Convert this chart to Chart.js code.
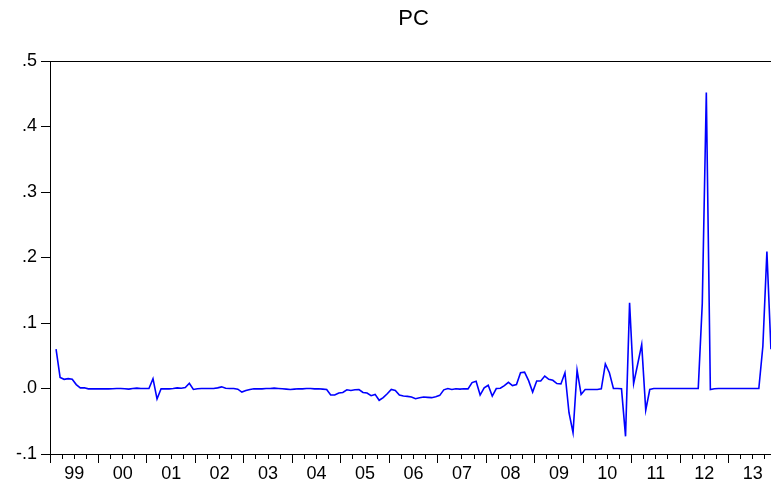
<!DOCTYPE html>
<html>
<head>
<meta charset="utf-8">
<script src="https://cdn.jsdelivr.net/npm/chart.js@4.4.1/dist/chart.umd.min.js"></script>
<style>
  html, body { margin: 0; padding: 0; background: #fff; overflow: hidden; }
  #wrap { width: 780px; height: 487px; }
</style>
</head>
<body>
<div id="wrap"><canvas id="chartPC" width="780" height="487"></canvas></div>
<script>
// series PC, monthly, first observation 1999M02 (months counted from 1999M01)
const firstObs = 1;
const yearLabels = ['99', '00', '01', '02', '03', '04', '05', '06', '07', '08', '09', '10', '11', '12', '13'];
const yTickLabels = ['-.1', '.0', '.1', '.2', '.3', '.4', '.5'];

const pcValues = [
  // 1999 (Feb-Dec)
  0.060, 0.017, 0.014, 0.015, 0.014, 0.006, 0.001, 0.001, -0.0005, -0.0005, -0.0005,
  // 2000
  -0.0005, -0.0005, -0.0005, -0.0003, 0.0, 0.0, -0.0005, -0.001, 0.0, 0.0005, 0.0, 0.0,
  // 2001
  0.0, 0.015, -0.016, -0.0005, -0.0005, -0.0005, 0.0, 0.001, 0.0005, 0.0015, 0.008, -0.0015,
  // 2002
  -0.0005, 0.0, 0.0, 0.0, 0.0, 0.001, 0.0025, 0.0005, 0.0, 0.0, -0.001, -0.0055,
  // 2003
  -0.003, -0.0015, -0.0005, -0.0005, -0.0005, 0.0, 0.0, 0.0005, 0.0, -0.0005, -0.001, -0.0015,
  // 2004
  -0.001, -0.0005, -0.0005, 0.0, 0.0, -0.0005, -0.0005, -0.001, -0.0015, -0.010, -0.010, -0.007,
  // 2005
  -0.006, -0.002, -0.003, -0.002, -0.0015, -0.006, -0.007, -0.011, -0.009, -0.018, -0.014, -0.008,
  // 2006
  -0.0015, -0.003, -0.010, -0.0115, -0.012, -0.013, -0.0155, -0.014, -0.013, -0.0135, -0.014, -0.0125,
  // 2007
  -0.0105, -0.002, 0.0, -0.0015, -0.0005, -0.001, -0.0005, -0.0005, 0.009, 0.011, -0.010, 0.001,
  // 2008
  0.005, -0.0115, 0.0, 0.0005, 0.0045, 0.0095, 0.0045, 0.006, 0.024, 0.025, 0.012, -0.0055,
  // 2009
  0.0115, 0.0115, 0.019, 0.014, 0.0125, 0.0075, 0.007, 0.024, -0.037, -0.0675, 0.028, -0.009,
  // 2010
  -0.0015, -0.0015, -0.0015, -0.0015, -0.0005, 0.0375, 0.024, 0.0, 0.0, -0.0005, -0.073, 0.131,
  // 2011
  0.0075, 0.037, 0.067, -0.033, -0.0015, 0.0, 0.0, 0.0, 0.0, 0.0, 0.0, 0.0,
  // 2012
  0.0, 0.0, 0.0, 0.0, 0.0, 0.13, 0.452, -0.0015, -0.0005, 0.0, 0.0, 0.0,
  // 2013
  0.0, 0.0, 0.0, 0.0, 0.0, 0.0, 0.0, 0.0, 0.0645, 0.209, 0.06
];

const yMin = -0.1, yMax = 0.5;
const xMax = yearLabels.length * 12;

Chart.defaults.font.family = '"Liberation Sans", Arial, sans-serif';
Chart.defaults.color = '#000';

// cadre autour de la zone de tracé
const framePlugin = {
  id: 'frame',
  afterDraw(chart) {
    const { ctx, chartArea: a } = chart;
    ctx.save();
    ctx.strokeStyle = '#000';
    ctx.lineWidth = 1;
    ctx.strokeRect(Math.round(a.left) + 0.5, Math.round(a.top) + 0.5, Math.round(a.right - a.left), Math.round(a.bottom - a.top));
    ctx.restore();
  }
};

const canvas = document.getElementById('chartPC');
const chart = new Chart(canvas, {
  type: 'line',
  data: {
    datasets: [{
      label: 'PC',
      data: pcValues.map((v, i) => ({ x: firstObs + i + 0.5, y: v })),
      borderColor: '#0000ff',
      borderWidth: 1.6,
      pointRadius: 0,
      tension: 0,
      fill: false
    }]
  },
  options: {
    responsive: false,
    animation: false,
    layout: { padding: { left: 0, right: 3, top: 0, bottom: 0 } },
    plugins: {
      legend: { display: false },
      tooltip: { enabled: false },
      title: {
        display: true,
        text: 'PC',
        fullSize: false,
        font: { size: 22, weight: 'normal' },
        padding: { top: 6, bottom: 28.6 }
      }
    },
    scales: {
      x: {
        type: 'linear',
        min: 0,
        max: xMax,
        afterFit(scale) { scale.height = 33; },
        afterBuildTicks(scale) {
          const t = [];
          for (let v = 0; v <= xMax; v += 3) t.push({ value: v });
          scale.ticks = t;
        },
        ticks: {
          autoSkip: false,
          maxRotation: 0,
          padding: 0,
          font: { size: 18 },
          callback: v => (v % 12 === 6 ? yearLabels[(v - 6) / 12] : '')
        },
        grid: {
          drawOnChartArea: false,
          tickLength: 9,
          tickColor: '#000',
          tickBorderDash: ctx => (ctx.tick && ctx.tick.value % 12 === 0 ? [] : [4, 30])
        },
        border: { display: true, color: '#000', width: 1 }
      },
      y: {
        min: yMin,
        max: yMax,
        afterFit(scale) { scale.width = 50; },
        ticks: {
          stepSize: 0.1,
          padding: 4,
          font: { size: 18 },
          callback: v => yTickLabels[Math.round((v - yMin) * 10)]
        },
        grid: {
          drawOnChartArea: false,
          tickLength: 9,
          tickColor: '#000'
        },
        border: { display: true, color: '#000', width: 1 }
      }
    }
  },
  plugins: [framePlugin]
});
</script>
</body>
</html>
